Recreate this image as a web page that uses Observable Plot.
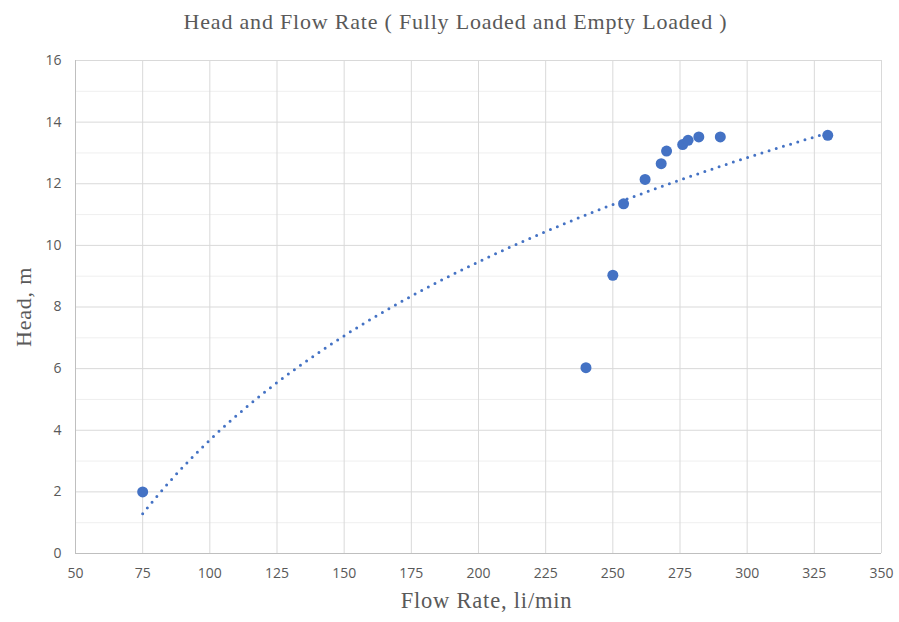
<!DOCTYPE html>
<html><head><meta charset="utf-8">
<script src="https://cdn.jsdelivr.net/npm/d3@7"></script>
<script src="https://cdn.jsdelivr.net/npm/@observablehq/plot@0.6"></script>
<style>
body{margin:0;background:#fff;}
#wrap{width:899px;height:622px;position:relative;overflow:hidden;}
#title{position:absolute;left:0;top:0;width:911px;height:45px;line-height:44px;text-align:center;font-family:"Liberation Serif","Times New Roman",serif;font-size:22px;letter-spacing:0.8px;color:#595959;}
#chart{position:absolute;left:0;top:45px;}
</style>
</head><body>
<div id="wrap"><div id="title">Head and Flow Rate ( Fully Loaded and Empty Loaded )</div><div id="chart"></div></div>
<script>
// Data
const flowRate = [75, 240, 250, 254, 262, 268, 270, 276, 278, 282, 290, 330];
const head     = [2.0, 6.03, 9.03, 11.35, 12.14, 12.65, 13.06, 13.27, 13.41, 13.52, 13.52, 13.57];
const xTicks = [50, 75, 100, 125, 150, 175, 200, 225, 250, 275, 300, 325, 350];
const yTicks = [0, 2, 4, 6, 8, 10, 12, 14, 16];
const yMinor = [1, 3, 5, 7, 9, 11, 13, 15];

const points = flowRate.map((x, i) => ({x, y: head[i]}));

// Logarithmic trendline (least squares y = a ln x + b) fitted to the data
const lx = flowRate.map(Math.log);
const mx = d3.mean(lx), my = d3.mean(head);
const a = d3.sum(lx, (v, i) => (v - mx) * (head[i] - my)) / d3.sum(lx, v => (v - mx) ** 2);
const b = my - a * mx;
const x0 = d3.min(flowRate), x1 = d3.max(flowRate);
const trend = d3.range(0, 201).map(i => {
  const x = x0 + (x1 - x0) * i / 200;
  return {x, y: a * Math.log(x) + b};
});

const blue = "#4472C4";
const serif = "'Liberation Serif', 'Times New Roman', serif";
const chart = Plot.plot({
  width: 899,
  height: 577,
  marginLeft: 75,
  marginRight: 18,
  marginTop: 15,
  marginBottom: 69,
  style: {fontFamily: "'Open Sans', sans-serif", fontSize: "14px", color: "#595959", background: "#fff"},
  x: {domain: [50, 350]},
  y: {domain: [0, 16]},
  marks: [
    Plot.ruleY(yMinor, {stroke: "#efefef", strokeWidth: 1}),
    Plot.ruleY(yTicks, {stroke: "#d9d9d9", strokeWidth: 1}),
    Plot.ruleX(xTicks, {stroke: "#d9d9d9", strokeWidth: 1}),
    Plot.ruleX([50], {stroke: "#bfbfbf", strokeWidth: 1}),
    Plot.ruleY([0], {stroke: "#bfbfbf", strokeWidth: 1}),
    Plot.axisX({ticks: xTicks, tickSize: 0, tickPadding: 15, label: null, fill: "#595959"}),
    Plot.axisY({ticks: yTicks, tickSize: 0, tickPadding: 14, label: null, fill: "#595959"}),
    Plot.line(trend, {x: "x", y: "y", stroke: blue, strokeWidth: 3, strokeDasharray: "0 7.5", strokeLinecap: "round"}),
    Plot.dot(points, {x: "x", y: "y", r: 5.5, fill: blue, stroke: "none"}),
    Plot.text(["Flow Rate, li/min"], {frameAnchor: "bottom", textAnchor: "middle", dx: 8, dy: 54, text: d => d, fontFamily: serif, fontSize: 22.5, fill: "#595959", style: {letterSpacing: "0.8px"}}),
    Plot.text(["Head, m"], {frameAnchor: "left", textAnchor: "middle", dx: -52, rotate: -90, text: d => d, fontFamily: serif, fontSize: 22, fill: "#595959"})
  ]
});
chart.querySelectorAll("text").forEach(t => {
  if (t.textContent === "Flow Rate, li/min" || t.textContent === "Head, m") t.setAttribute("letter-spacing", "0.8");
});
document.getElementById("chart").appendChild(chart);
</script>
</body></html>
